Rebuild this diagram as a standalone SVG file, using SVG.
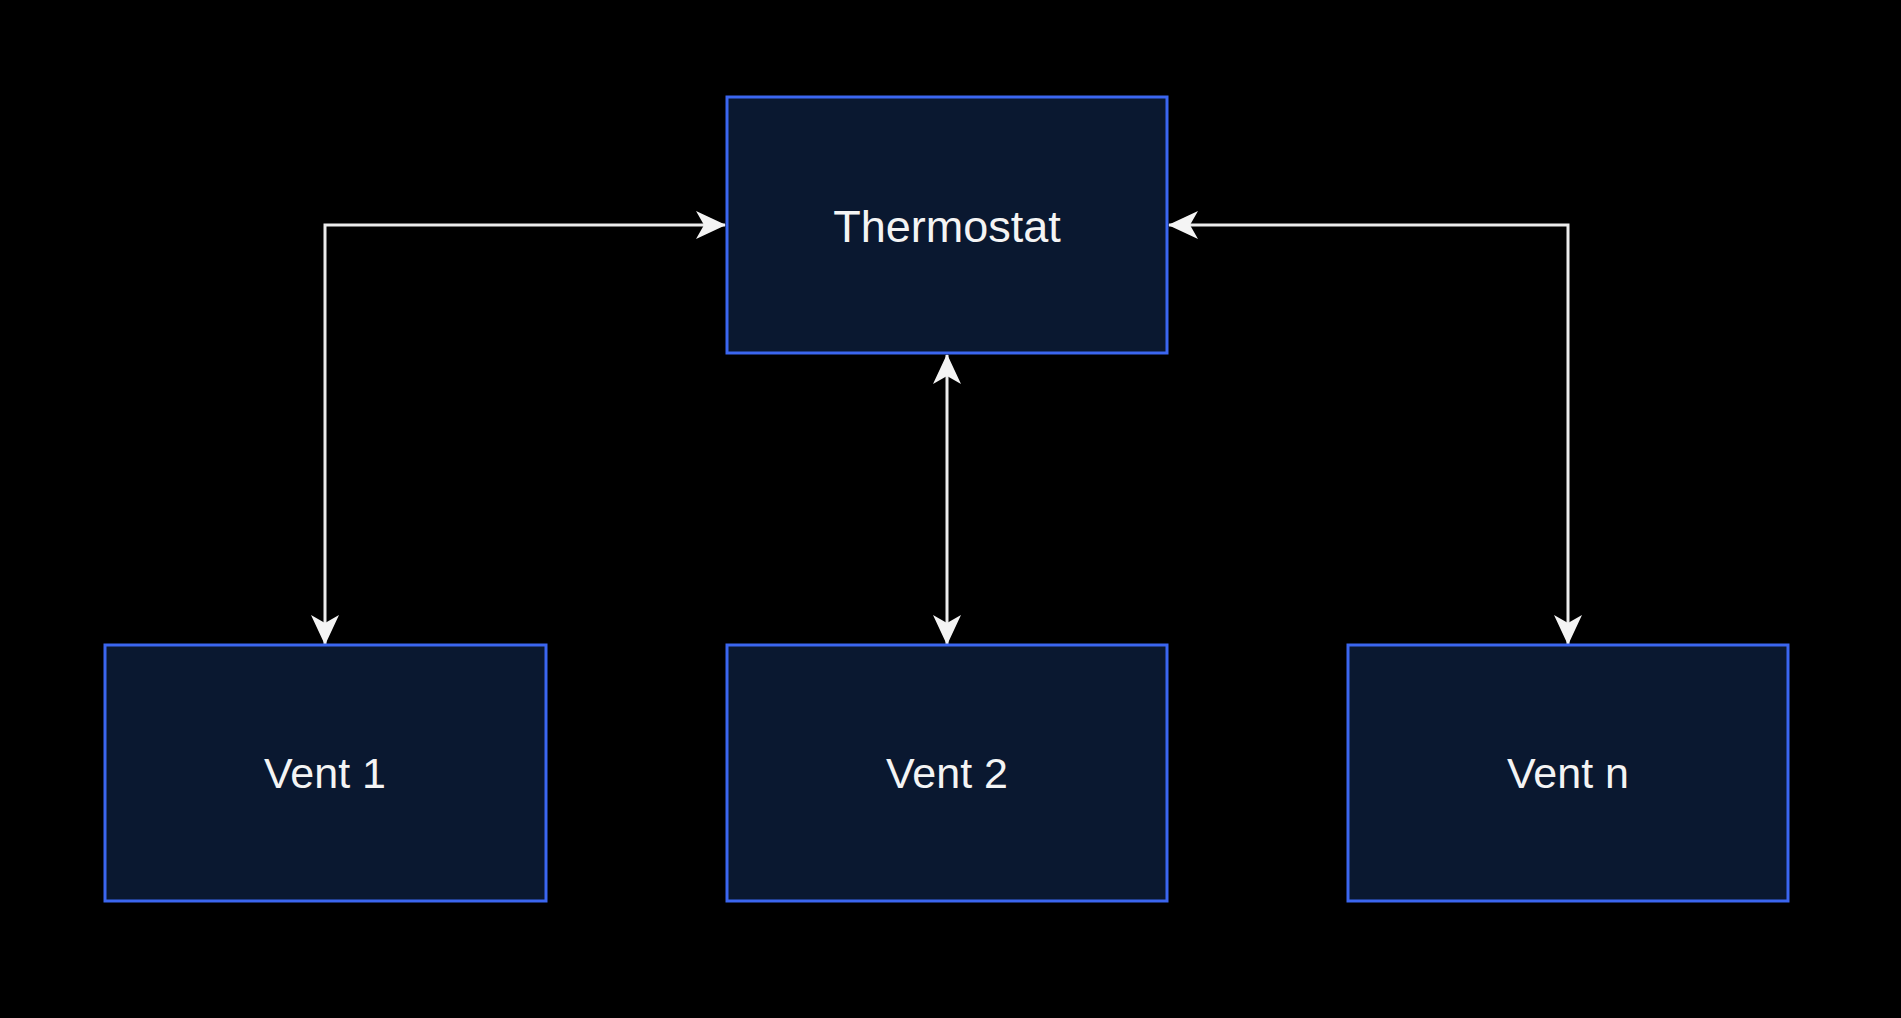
<svg xmlns="http://www.w3.org/2000/svg" width="1901" height="1018" viewBox="0 0 1901 1018">
<style>
.node rect{fill:#0a1830;stroke:#3b66f0;stroke-width:3}
.node text{fill:#f4f4f4;font-family:"Liberation Sans",Arial,sans-serif;font-size:43px;text-anchor:middle}
.conn path{fill:none;stroke:#ececec;stroke-width:3;marker-start:url(#arr);marker-end:url(#arr)}
</style>
<defs>
<marker id="arr" viewBox="0 0 30 30" refX="29" refY="15" markerWidth="30" markerHeight="30" markerUnits="userSpaceOnUse" orient="auto-start-reverse">
<path d="M0,1 L30,15 L0,29 L8,15 z" fill="#f4f4f4"/>
</marker>
</defs>
<rect width="1901" height="1018" fill="#000"/>
<g id="connectors" class="conn">
<path d="M325,644 V225 H725"/>
<path d="M947,355 V644"/>
<path d="M1169,225 H1568 V644"/>
</g>
<g id="thermostat" class="node"><rect x="727" y="97" width="440" height="256"/><text x="947" y="242" style="font-size:45px">Thermostat</text></g>
<g id="vent1" class="node"><rect x="105" y="645" width="441" height="256"/><text x="325" y="788">Vent 1</text></g>
<g id="vent2" class="node"><rect x="727" y="645" width="440" height="256"/><text x="947" y="788">Vent 2</text></g>
<g id="ventn" class="node"><rect x="1348" y="645" width="440" height="256"/><text x="1568" y="788">Vent n</text></g>
</svg>
